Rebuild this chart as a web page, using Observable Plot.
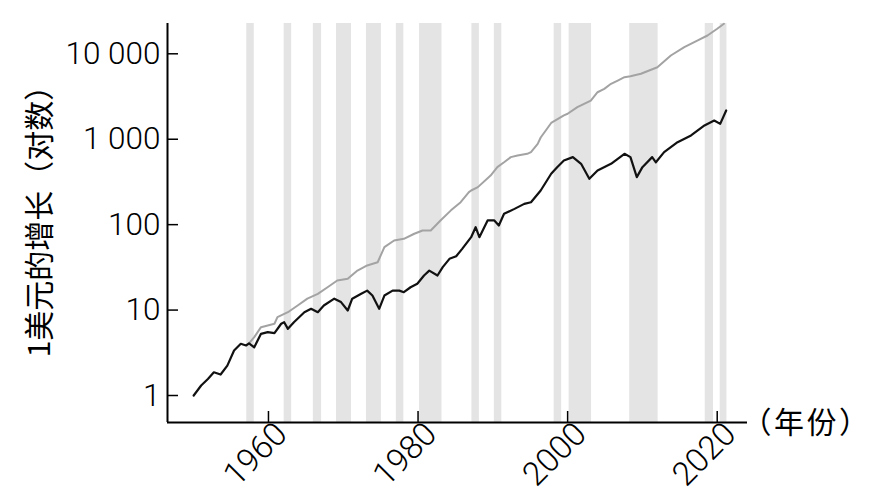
<!DOCTYPE html>
<html>
<head>
<meta charset="utf-8">
<script src="https://cdn.jsdelivr.net/npm/d3@7"></script>
<script src="https://cdn.jsdelivr.net/npm/@observablehq/plot@0.6"></script>
<style>
  html, body { margin: 0; padding: 0; background: #fff; }
  #chart svg { display: block; }
</style>
</head>
<body>
<div id="chart"></div>
<script>
// ---- data ----
const blackYears = [1950.0,1951.0,1951.9,1952.7,1953.6,1954.5,1955.4,1956.3,1957.0,1957.4,1958.1,1959.0,1959.9,1960.8,1961.7,1962.1,1962.6,1963.4,1964.8,1965.7,1966.6,1967.4,1968.8,1969.7,1970.6,1971.2,1972.4,1973.2,1973.9,1974.8,1975.5,1976.6,1977.5,1978.1,1979.0,1979.9,1980.8,1981.5,1982.6,1983.3,1984.2,1985.1,1985.9,1987.1,1987.7,1988.2,1989.3,1990.2,1990.8,1991.5,1992.9,1994.2,1995.1,1996.4,1997.8,1998.6,1999.5,2000.7,2001.8,2002.9,2004.0,2005.8,2007.6,2008.4,2009.25,2010.0,2011.3,2011.8,2012.9,2014.7,2016.5,2018.3,2019.6,2020.4,2021.2];
const blackValues = [1.00,1.31,1.56,1.87,1.76,2.24,3.36,4.03,3.85,4.08,3.67,5.27,5.51,5.37,6.92,7.21,6.03,7.21,9.44,10.35,9.44,11.3,13.6,12.4,9.89,13.6,15.5,16.9,14.8,10.35,14.8,16.9,16.9,16.2,18.5,20.3,25.4,29.0,25.4,31.8,39.8,42.7,52.1,71.3,93.3,71.3,112,112,97.7,134,153,175,183,251,394,471,564,617,515,344,431,515,675,617,360,471,617,537,706,923,1107,1449,1656,1514,2168];

const grayYears = [1957.4,1958.1,1959.0,1959.9,1960.8,1961.2,1962.6,1963.9,1965.2,1966.6,1967.9,1969.2,1970.6,1971.9,1973.2,1974.6,1975.5,1976.8,1978.1,1979.5,1980.6,1981.7,1983.0,1984.4,1985.7,1986.8,1987.1,1988.0,1989.7,1990.6,1991.5,1992.4,1993.3,1994.6,1995.1,1996.0,1996.4,1997.8,1999.5,2000.0,2001.3,2002.2,2003.1,2004.0,2004.9,2005.8,2006.7,2007.6,2008.4,2009.8,2012.0,2013.8,2015.6,2017.4,2018.7,2020.0,2020.9];
const grayValues = [4.08,4.82,6.31,6.61,6.92,8.26,9.44,11.3,13.6,15.5,18.5,22.2,23.2,29.0,33.3,36.3,54.5,65.3,68.2,78.2,85.5,85.5,112,147,183,240,251,275,376,471,537,617,646,675,708,883,1047,1550,1905,1986,2371,2600,2838,3548,3890,4457,4864,5321,5470,5834,6966,9550,11940,14320,16370,19630,22440];

const bandStart = [1957.1,1962.1,1966.0,1969.1,1973.1,1977.1,1980.2,1987.2,1990.2,1998.2,2000.2,2008.3,2018.4,2020.4];
const bandEnd   = [1958.1,1963.1,1967.1,1971.1,1975.1,1978.1,1983.2,1988.2,1991.2,1999.2,2003.2,2012.1,2019.5,2021.3];

const xTicks = [1960, 1980, 2000, 2020];
const yTicks = [1, 10, 100, 1000, 10000];
const yTickLabels = ["1", "10", "100", "1 000", "10 000"];

const yTitle = "1美元的增长（对数）";
const xTitle = "（年份）";

// ---- build ----
const black = blackYears.map((x, i) => ({x, y: blackValues[i]}));
const gray = grayYears.map((x, i) => ({x, y: grayValues[i]}));
const bands = bandStart.map((s, i) => ({x1: s, x2: bandEnd[i]}));
const yLab = yTicks.map((v, i) => ({v, t: yTickLabels[i]}));

const W = 873, H = 504, mL = 167, mR = 126, mT = 23, mB = 82;
const pw = W - mL - mR, ph = H - mT - mB;
const xMin = 1946.5, yMin = 0.483;
const numFont = "Roboto, 'Liberation Sans', sans-serif";
const cjkFont = "'Noto Sans CJK SC', sans-serif";

const chart = Plot.plot({
  width: W, height: H,
  marginLeft: mL, marginRight: mR, marginTop: mT, marginBottom: mB,
  style: {background: "#fff", fontFamily: numFont},
  x: {domain: [xMin, 2024.05], axis: null},
  y: {type: "log", domain: [yMin, 22630], axis: null},
  marks: [
    Plot.rect(bands, {x1: "x1", x2: "x2", fill: "#e4e4e4"}),
    Plot.line(gray, {x: "x", y: "y", stroke: "#a3a3a3", strokeWidth: 2}),
    Plot.line(black, {x: "x", y: "y", stroke: "#111", strokeWidth: 2.2}),
    Plot.ruleX([xMin], {stroke: "#000", strokeWidth: 2}),
    Plot.ruleY([yMin], {stroke: "#000", strokeWidth: 2}),
    Plot.tickX(xTicks, {x: d => d, insetTop: ph - 11, stroke: "#000", strokeWidth: 1.5}),
    Plot.tickY(yTicks, {y: d => d, insetRight: pw - 11, stroke: "#000", strokeWidth: 1.5}),
    Plot.text(yLab, {y: "v", text: "t", frameAnchor: "left", dx: -7, textAnchor: "end", lineAnchor: "middle", fontSize: 31.5, fontWeight: 300, fill: "#000"}),
    Plot.text(xTicks, {x: d => d, text: d => String(d), frameAnchor: "bottom", dx: 13, dy: 6, rotate: -45, textAnchor: "end", lineAnchor: "middle", fontSize: 33, fontWeight: 300, fill: "#000"}),
    Plot.text([yTitle], {text: d => d, frameAnchor: "left", dx: -127, dy: -9, rotate: -90, textAnchor: "middle", lineAnchor: "middle", fontSize: 30, fontFamily: cjkFont, fill: "#000"}),
    Plot.text([xTitle], {text: d => d, frameAnchor: "bottom-right", dx: -6, dy: 1, textAnchor: "start", lineAnchor: "middle", fontSize: 30, fontFamily: cjkFont, fill: "#000"})
  ]
});
d3.select(chart).selectAll("text").filter(function() { return this.textContent === xTitle; }).style("letter-spacing", "2.5px");
document.getElementById("chart").appendChild(chart);
</script>
</body>
</html>
